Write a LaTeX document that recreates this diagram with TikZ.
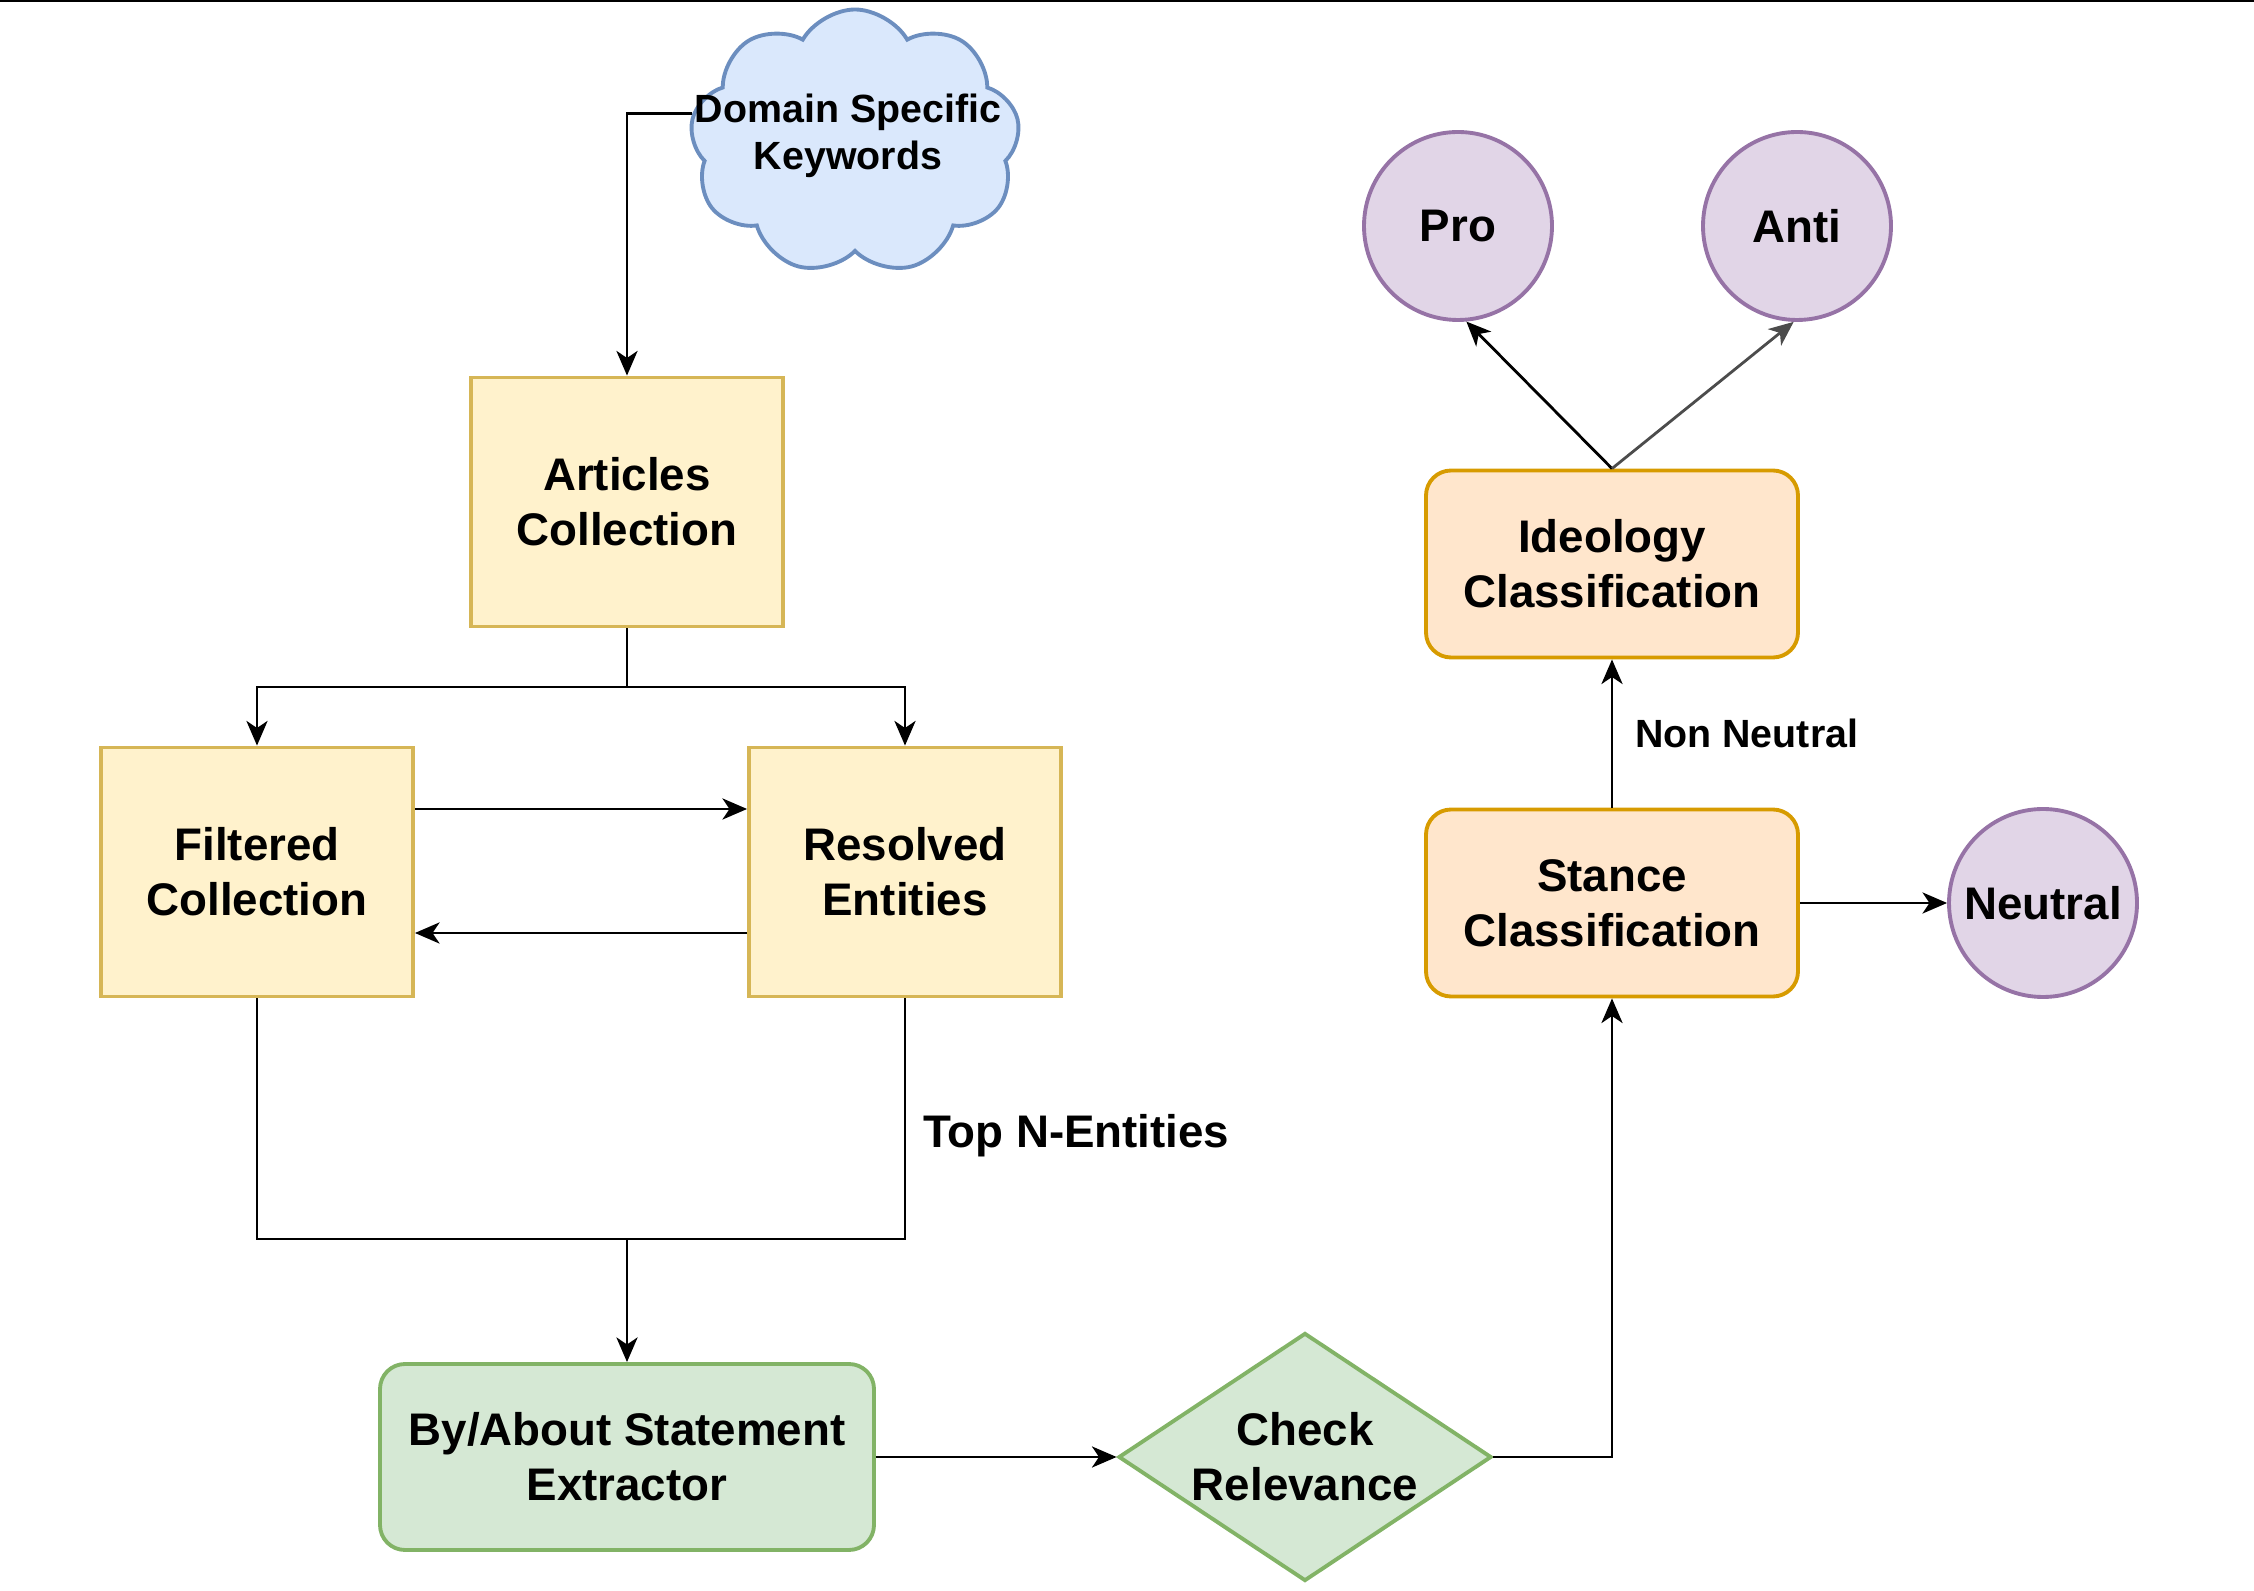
\documentclass[tikz,border=0pt]{standalone}
\usepackage{fontspec}
\setmainfont{Liberation Sans}
\usetikzlibrary{shapes.geometric, shapes.symbols, arrows.meta}

\definecolor{yelfill}{HTML}{FFF2CC}
\definecolor{yelline}{HTML}{D6B656}
\definecolor{orafill}{HTML}{FFE6CC}
\definecolor{oraline}{HTML}{D79B00}
\definecolor{grnfill}{HTML}{D5E8D4}
\definecolor{grnline}{HTML}{82B366}
\definecolor{purfill}{HTML}{E1D5E7}
\definecolor{purline}{HTML}{9673A6}
\definecolor{blufill}{HTML}{DAE8FC}
\definecolor{bluline}{HTML}{6C8EBF}

\begin{document}
\begin{tikzpicture}[
  txt/.style={font=\fontsize{13}{15.6}\selectfont\bfseries, align=center},
  smalltxt/.style={font=\fontsize{11.2}{13.5}\selectfont\bfseries, align=center},
  box/.style={txt, draw=yelline, fill=yelfill, line width=1.1pt, minimum width=3.12cm, minimum height=2.49cm},
  cls/.style={txt, draw=oraline, fill=orafill, line width=1.1pt, rounded corners=0.25cm, minimum width=3.72cm, minimum height=1.87cm},
  extr/.style={txt, draw=grnline, fill=grnfill, line width=1.1pt, rounded corners=0.25cm, minimum width=4.94cm, minimum height=1.86cm},
  chkbox/.style={diamond, draw=grnline, fill=grnfill, line width=1.1pt, inner sep=0pt, minimum width=3.73cm, minimum height=2.48cm},
  res/.style={txt, circle, draw=purline, fill=purfill, line width=1.1pt, inner sep=0pt, minimum size=1.88cm},
  kwcloud/.style={cloud, cloud puffs=9, cloud puff arc=120, cloud ignores aspect, draw=bluline, fill=blufill, line width=1.1pt, inner sep=0pt, minimum width=3.3cm, minimum height=2.65cm},
  ln/.style={line width=0.8pt},
  arr/.style={ln, -{Stealth[length=7pt, width=6pt, inset=2pt]}},
]
  \useasboundingbox (0,0) rectangle (22.54,15.90);
  \fill (0,15.88) rectangle (22.54,15.90);

  % Keywords and collection
  \node[kwcloud, label={[smalltxt, yshift=0.06cm, xshift=-0.07cm]center:Domain Specific\\Keywords}] (kw) at (8.55,14.48) {};
  \node[box] (art) at (6.27,10.88) {Articles\\Collection};
  \node[box] (fil) at (2.57,7.18) {Filtered\\Collection};
  \node[box] (rsv) at (9.05,7.18) {Resolved\\Entities};

  % Extraction
  \node[extr] (ext) at (6.27,1.33) {By/About Statement\\Extractor};
  \node[chkbox, label={[txt]center:Check\\Relevance}] (chk) at (13.05,1.33) {};

  % Classification
  \node[cls] (sta) at (16.12,6.87) {Stance\\Classification};
  \node[cls] (ide) at (16.12,10.26) {Ideology\\Classification};
  \node[res] (pro) at (14.58,13.64) {Pro};
  \node[res] (anti) at (17.97,13.64) {Anti};
  \node[res] (neu) at (20.43,6.87) {Neutral};

  \coordinate (split) at (6.27,9.03);
  \coordinate (merge) at (6.27,3.51);

  % Connectors
  \draw[arr] (kw.170) -| (art.north);
  \draw[ln] (art.south) -- (split);
  \draw[arr] (split) -| (fil.north);
  \draw[arr] (split) -| (rsv.north);
  \draw[arr] ([yshift=0.63cm]fil.east) -- ([yshift=0.63cm]rsv.west);
  \draw[arr] ([yshift=-0.61cm]rsv.west) -- ([yshift=-0.61cm]fil.east);
  \draw[ln] (fil.south) |- (merge);
  \draw[ln] (rsv.south) -- node[txt, right, pos=0.57, xshift=0.05cm] {Top N-Entities} (rsv.south |- merge) -- (merge);
  \draw[arr] (merge) -- (ext.north);
  \draw[arr] (ext.east) -- (chk.west);
  \draw[arr] (chk.east) -| (sta.south);
  \draw[arr] (sta.north) -- node[smalltxt, right, xshift=0.1cm] {Non Neutral} (ide.south);
  \draw[arr] (ide.north) -- (pro.-85);
  \draw[arr, black!70] (ide.north) -- (anti.-92);
  \draw[arr] (sta.east) -- (neu.west);
\end{tikzpicture}
\end{document}
